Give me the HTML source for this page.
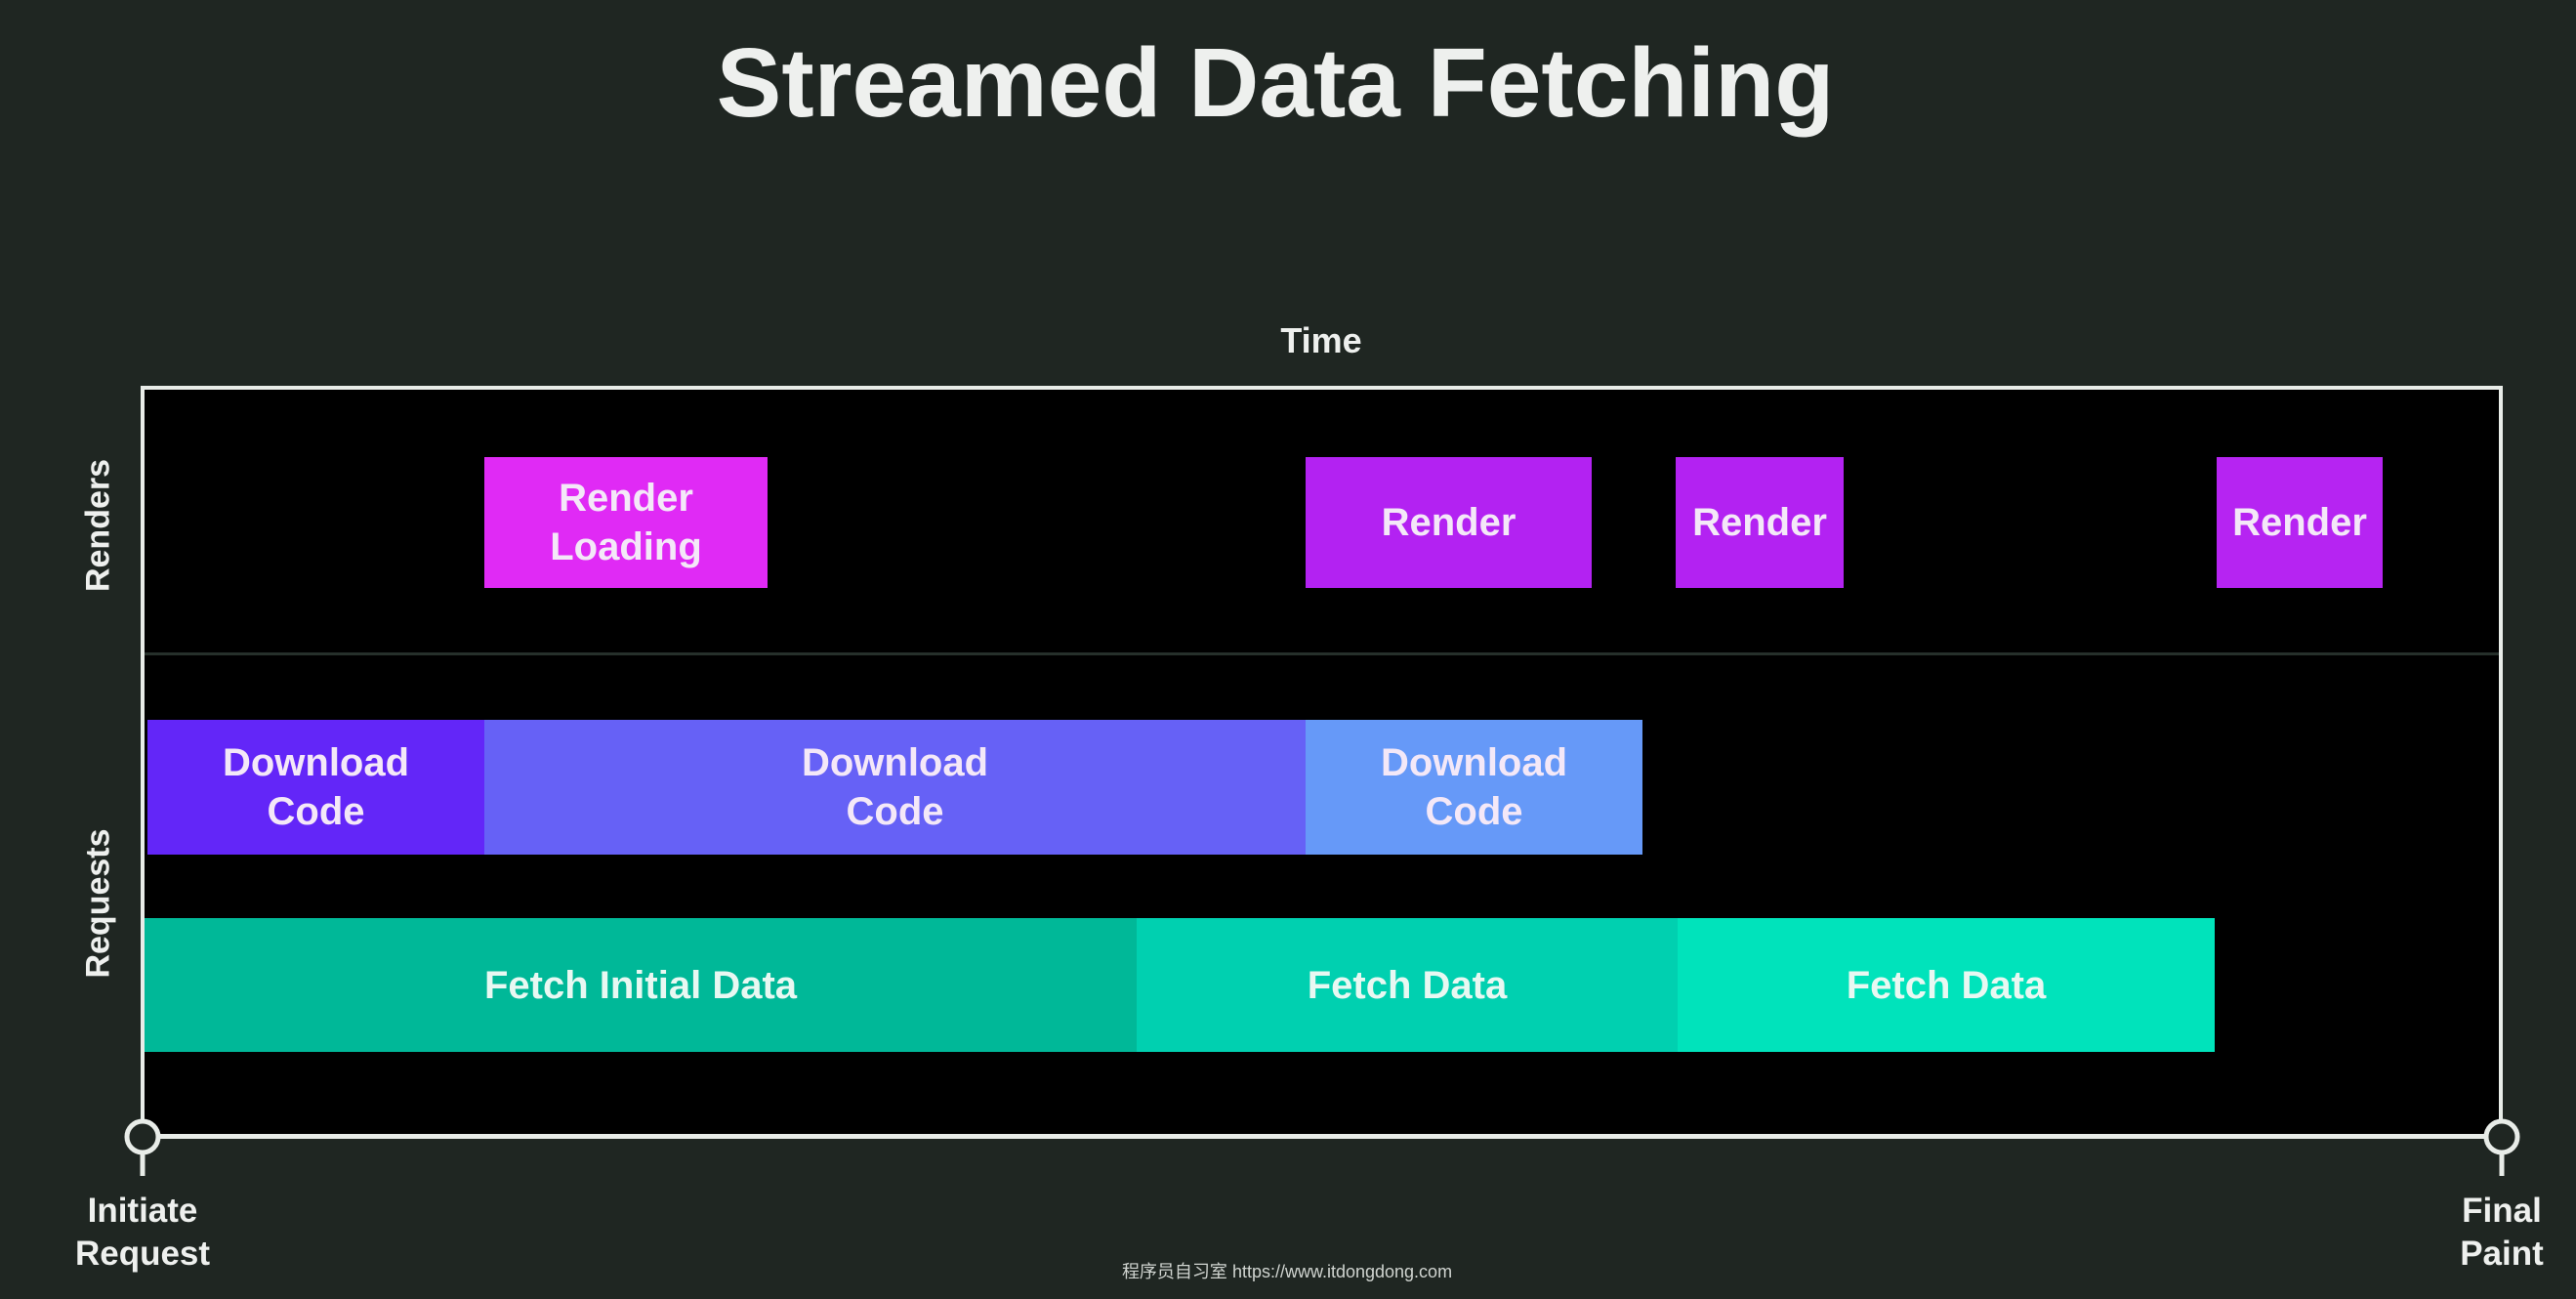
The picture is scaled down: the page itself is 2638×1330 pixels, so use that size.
<!DOCTYPE html>
<html><head><meta charset="utf-8"><style>
body{margin:0;width:2638px;height:1330px;background:#1f2622;position:relative;overflow:hidden;font-family:"Liberation Sans",sans-serif;color:#eef0ee}
.a{position:absolute}
.b{position:absolute;display:flex;align-items:center;justify-content:center;text-align:center;font-size:40px;font-weight:bold;line-height:50px;color:#f4e8f8}
</style></head><body>
<div class="a" style="left:0;width:2612px;top:28px;text-align:center;font-size:100px;font-weight:bold;letter-spacing:0px">Streamed Data Fetching</div>
<div class="a" style="left:1253px;width:200px;top:328px;text-align:center;font-size:36px;font-weight:bold">Time</div>
<div class="a" style="left:144px;top:395px;width:2411px;height:766px;background:#000;border:4px solid #e8ece8;border-bottom:none"></div>
<div class="a" style="left:148px;top:668px;width:2411px;height:3px;background:#26302b"></div>
<div class="a" style="left:144px;top:1161px;width:2420px;height:5px;background:#e8ece8"></div>
<svg class="a" style="left:0;top:0" width="2638" height="1330">
<g stroke="#e8ece8" stroke-width="5" fill="#1f2622">
<line x1="146" y1="1180" x2="146" y2="1204"/><circle cx="146" cy="1164" r="16"/>
<line x1="2562" y1="1180" x2="2562" y2="1204"/><circle cx="2562" cy="1164" r="16"/>
</g></svg>
<div class="a" style="left:101px;top:538px;transform:translate(-50%,-50%) rotate(-90deg);font-size:34px;font-weight:bold">Renders</div>
<div class="a" style="left:101px;top:925px;transform:translate(-50%,-50%) rotate(-90deg);font-size:34px;font-weight:bold">Requests</div>
<div class="b" style="left:496px;top:468px;width:290px;height:134px;background:#e02af5">Render<br>Loading</div>
<div class="b" style="left:1337px;top:468px;width:293px;height:134px;background:#b322f2">Render</div>
<div class="b" style="left:1716px;top:468px;width:172px;height:134px;background:#b322f2">Render</div>
<div class="b" style="left:2270px;top:468px;width:170px;height:134px;background:#b624f2">Render</div>
<div class="b" style="left:151px;top:737px;width:345px;height:138px;background:#6326f8">Download<br>Code</div>
<div class="b" style="left:496px;top:737px;width:841px;height:138px;background:#6661f6">Download<br>Code</div>
<div class="b" style="left:1337px;top:737px;width:345px;height:138px;background:#6699f8">Download<br>Code</div>
<div class="b" style="left:148px;top:940px;width:1016px;height:137px;background:#00b898;color:#e8f8f2">Fetch Initial Data</div>
<div class="b" style="left:1164px;top:940px;width:554px;height:137px;background:#00d0b0;color:#e8f8f2">Fetch Data</div>
<div class="b" style="left:1718px;top:940px;width:550px;height:137px;background:#00e3bb;color:#e8f8f2">Fetch Data</div>
<div class="a" style="left:46px;width:200px;top:1218px;text-align:center;font-size:35px;font-weight:bold;line-height:44px">Initiate<br>Request</div>
<div class="a" style="left:2462px;width:200px;top:1218px;text-align:center;font-size:35px;font-weight:bold;line-height:44px">Final<br>Paint</div>
<div class="a" style="left:1018px;width:600px;top:1288px;text-align:center;font-size:18px;color:#d0d4d0;font-family:'Liberation Sans','Noto Sans CJK SC',sans-serif">程序员自习室 https://www.itdongdong.com</div>
</body></html>
